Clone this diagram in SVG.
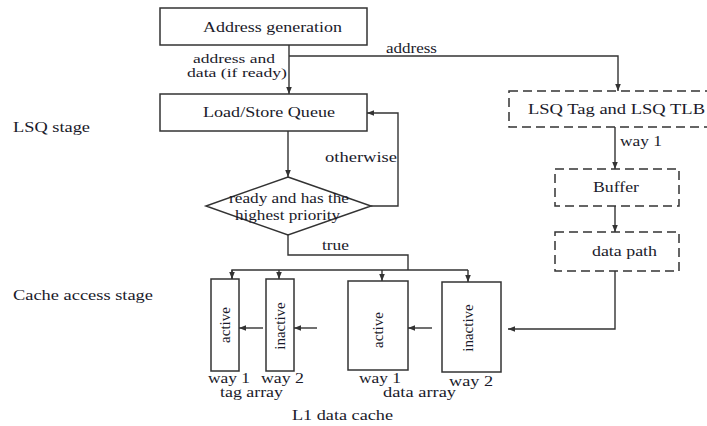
<svg xmlns="http://www.w3.org/2000/svg" width="707" height="426" viewBox="0 0 707 426">
<defs>
<marker id="ah" viewBox="0 0 10 10" refX="10" refY="5" markerWidth="7" markerHeight="7" orient="auto" markerUnits="userSpaceOnUse">
<path d="M0,1 L10,5 L0,9 Z" fill="#333"/>
</marker>
<style>
.n rect,.n polygon{fill:#fff;stroke:#333;stroke-width:1.5}
.d{stroke-dasharray:9 5}
.c path{fill:none;stroke:#333;stroke-width:1.4}
.a{marker-end:url(#ah)}
text{font-family:"Liberation Serif","Times New Roman",serif;font-size:15px;fill:#1a1a2a}
.s{font-size:12px}
.m{text-anchor:middle}
</style>
</defs>
<rect width="707" height="426" style="fill:#fff;stroke:none"/>

<g id="labels">
<text x="13" y="132" textLength="77" lengthAdjust="spacingAndGlyphs">LSQ stage</text>
<text x="13" y="300" textLength="140" lengthAdjust="spacingAndGlyphs">Cache access stage</text>
</g>

<g id="addrgen" class="n">
<rect x="160" y="8" width="207" height="37"/>
<text x="203" y="32" textLength="139" lengthAdjust="spacingAndGlyphs">Address generation</text>
</g>

<g id="lsq" class="n">
<rect x="160" y="94" width="207" height="37"/>
<text x="203" y="117" textLength="132" lengthAdjust="spacingAndGlyphs">Load/Store Queue</text>
</g>

<g id="decision" class="n">
<polygon points="288,177 371,206 288,235 206,206"/>
<text x="229" y="203" textLength="120" lengthAdjust="spacingAndGlyphs">ready and has the</text>
<text x="235" y="220" textLength="105" lengthAdjust="spacingAndGlyphs">highest priority</text>
</g>

<g id="lsqtag" class="n">
<rect class="d" x="509" y="91" width="210" height="36"/>
<text x="528" y="114" textLength="177" lengthAdjust="spacingAndGlyphs">LSQ Tag and LSQ TLB</text>
</g>

<g id="buffer" class="n">
<rect class="d" x="555" y="169" width="124" height="37"/>
<text x="593" y="192" textLength="46" lengthAdjust="spacingAndGlyphs">Buffer</text>
</g>

<g id="datapath" class="n">
<rect class="d" x="555" y="232" width="124" height="39"/>
<text x="592" y="256" textLength="65" lengthAdjust="spacingAndGlyphs">data path</text>
</g>

<g id="tagway1" class="n">
<rect x="211" y="279" width="28" height="92"/>
<text class="m" transform="translate(230,325) rotate(-90)">active</text>
</g>

<g id="tagway2" class="n">
<rect x="266" y="279" width="28" height="92"/>
<text class="m" transform="translate(285,326) rotate(-90)">inactive</text>
</g>

<g id="dataway1" class="n">
<rect x="348" y="281" width="60" height="89"/>
<text class="m" transform="translate(383,330) rotate(-90)">active</text>
</g>

<g id="dataway2" class="n">
<rect x="442" y="282" width="59" height="90"/>
<text class="m" transform="translate(473,328) rotate(-90)">inactive</text>
</g>

<g id="cachelabels">
<text x="208" y="383" textLength="42" lengthAdjust="spacingAndGlyphs">way 1</text>
<text x="261" y="383" textLength="43" lengthAdjust="spacingAndGlyphs">way 2</text>
<text x="220" y="397" textLength="63" lengthAdjust="spacingAndGlyphs">tag array</text>
<text x="359" y="383" textLength="42" lengthAdjust="spacingAndGlyphs">way 1</text>
<text x="449" y="386" textLength="44" lengthAdjust="spacingAndGlyphs">way 2</text>
<text x="383" y="397" textLength="73" lengthAdjust="spacingAndGlyphs">data array</text>
<text x="292" y="420" textLength="101" lengthAdjust="spacingAndGlyphs">L1 data cache</text>
</g>

<g id="connectors" class="c">
<path class="a" d="M289,45 V94"/>
<path class="a" d="M289,56 H618 V91"/>
<path class="a" d="M288,131 V177"/>
<path class="a" d="M371,206 H398 V113 H367"/>
<path d="M288,235 V255 H408 V270"/>
<path d="M232,279 V270 H468"/>
<path class="a" d="M232,270 V279"/>
<path class="a" d="M279,270 V279"/>
<path class="a" d="M382,270 V281"/>
<path class="a" d="M468,270 V282"/>
<path class="a" d="M263,328 H239"/>
<path class="a" d="M317,328 H294"/>
<path class="a" d="M432,328 H408"/>
<path class="a" d="M615,127 V169"/>
<path class="a" d="M615,206 V232"/>
<path class="a" d="M615,271 V329 H508"/>
</g>

<g id="connector-labels">
<text class="s" x="193" y="63" textLength="82" lengthAdjust="spacingAndGlyphs">address and</text>
<text class="s" x="187" y="77" textLength="100" lengthAdjust="spacingAndGlyphs">data (if ready)</text>
<text x="386" y="53" textLength="51" lengthAdjust="spacingAndGlyphs">address</text>
<text x="325" y="162" textLength="72" lengthAdjust="spacingAndGlyphs">otherwise</text>
<text x="322" y="250" textLength="27" lengthAdjust="spacingAndGlyphs">true</text>
<text x="620" y="146" textLength="42" lengthAdjust="spacingAndGlyphs">way 1</text>
</g>
</svg>
